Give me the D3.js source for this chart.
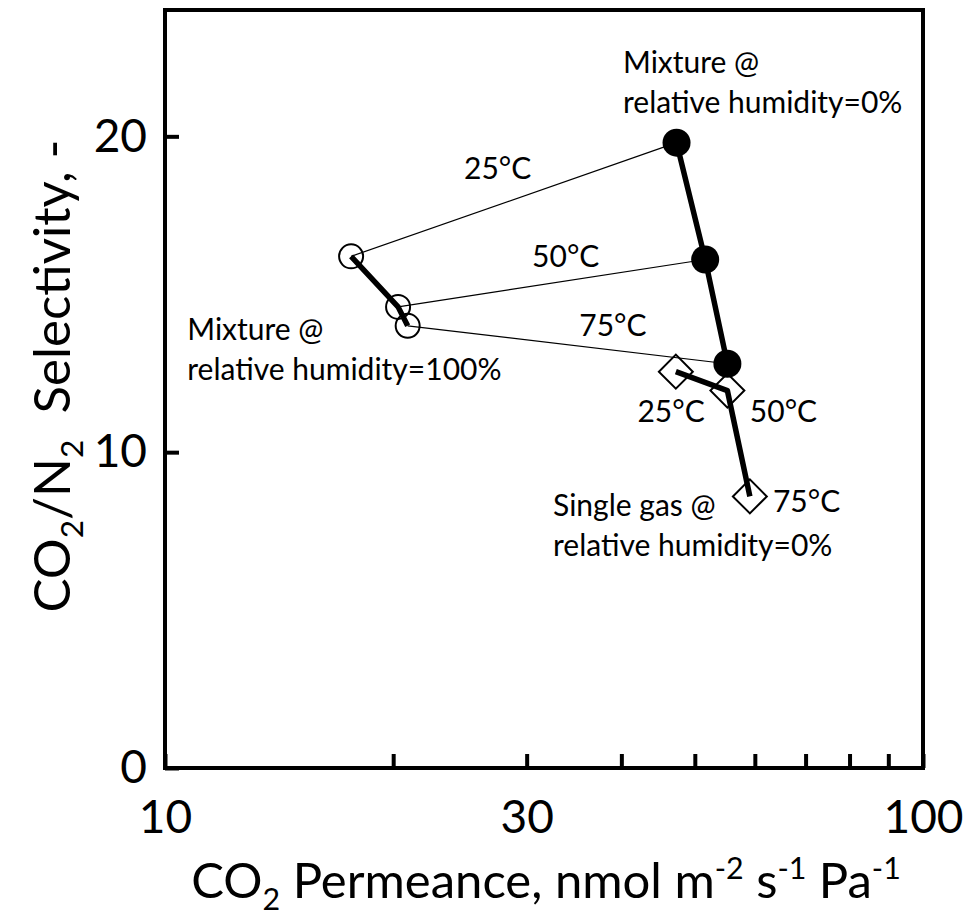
<!DOCTYPE html>
<html>
<head>
<meta charset="utf-8">
<script src="https://cdn.jsdelivr.net/npm/d3@7"></script>
<style>
  body { margin: 0; background: #fff; }
  text { font-family: Lato, "Open Sans", sans-serif; fill: #000; }
</style>
</head>
<body>
<svg id="chart" width="974" height="923"></svg>
<script>
// CO2/N2 selectivity vs CO2 permeance at three temperatures
const temperatures = ["25°C", "50°C", "75°C"];

// Mixture feed, relative humidity 0%
const mixDryPermeance   = [47.3, 51.6, 55.2];
const mixDrySelectivity = [19.8, 16.1, 12.8];

// Mixture feed, relative humidity 100%
const mixWetPermeance   = [17.6, 20.3, 20.9];
const mixWetSelectivity = [16.2, 14.6, 14.0];

// Single gas, relative humidity 0%
const singlePermeance   = [47.2, 55.2, 59.1];
const singleSelectivity = [12.55, 11.95, 8.6];

// Axis ticks
const xTickValues = [10, 20, 30, 40, 50, 60, 70, 80, 90, 100];
const xTickLabels = [10, 30, 100];
const yTickValues = [0, 10, 20];

// Annotations anchored in data units (permeance, selectivity)
const groupNotes = [
  { lines: ["Mixture @", "relative humidity=0%"],   x: 40.2, y: 22.0 },
  { lines: ["Mixture @", "relative humidity=100%"], x: 10.7, y: 13.54 },
  { lines: ["Single gas @", "relative humidity=0%"], x: 32.5, y: 7.97 }
];
const tieLineNotes = [
  { text: temperatures[0], x: 24.8, y: 18.64 },
  { text: temperatures[1], x: 30.5, y: 15.85 },
  { text: temperatures[2], x: 35.2, y: 13.67 }
];
const singleNotes = [
  { text: temperatures[0], x: 42.0, y: 10.95 },
  { text: temperatures[1], x: 59.1, y: 10.95 },
  { text: temperatures[2], x: 63.4, y: 8.1 }
];

const svg = d3.select("#chart");
const plotLeft = 165, plotRight = 923, plotTop = 10, plotBottom = 768;

const x = d3.scaleLog().domain([10, 100]).range([plotLeft, plotRight]);
const y = d3.scaleLinear().domain([0, 24]).range([plotBottom, plotTop]);

const toPoints = (xs, ys) => xs.map((v, i) => ({ p: v, s: ys[i] }));
const dry = toPoints(mixDryPermeance, mixDrySelectivity);
const wet = toPoints(mixWetPermeance, mixWetSelectivity);
const single = toPoints(singlePermeance, singleSelectivity);

const line = d3.line().x(d => x(d.p)).y(d => y(d.s));

// Thin tie lines joining wet and dry mixture results at each temperature
svg.append("g")
  .selectAll("path")
  .data(temperatures.map((t, i) => [wet[i], dry[i]]))
  .join("path")
  .attr("d", line)
  .attr("fill", "none")
  .attr("stroke", "#000")
  .attr("stroke-width", 1.2);

// Thick trend lines through each data set
svg.append("g")
  .selectAll("path")
  .data([dry, wet, single])
  .join("path")
  .attr("d", line)
  .attr("fill", "none")
  .attr("stroke", "#000")
  .attr("stroke-width", 5.5)
  .attr("stroke-linejoin", "round");

// Markers
svg.append("g").selectAll("circle").data(dry).join("circle")
  .attr("cx", d => x(d.p)).attr("cy", d => y(d.s)).attr("r", 14)
  .attr("fill", "#000");

svg.append("g").selectAll("circle").data(wet).join("circle")
  .attr("cx", d => x(d.p)).attr("cy", d => y(d.s)).attr("r", 12)
  .attr("fill", "none").attr("stroke", "#000").attr("stroke-width", 2);

const diamond = d3.symbol().type(d3.symbolSquare).size(24 * 24);
svg.append("g").selectAll("path").data(single).join("path")
  .attr("d", diamond)
  .attr("transform", d => `translate(${x(d.p)},${y(d.s)}) rotate(45)`)
  .attr("fill", "none").attr("stroke", "#000").attr("stroke-width", 2);

// Plot frame
svg.append("rect")
  .attr("x", plotLeft).attr("y", plotTop)
  .attr("width", plotRight - plotLeft).attr("height", plotBottom - plotTop)
  .attr("fill", "none").attr("stroke", "#000").attr("stroke-width", 4);

// X axis: inward ticks, labels only at selected values
const xAxis = d3.axisBottom(x)
  .tickValues(xTickValues)
  .tickSizeInner(-14).tickSizeOuter(0).tickPadding(32)
  .tickFormat(d => xTickLabels.includes(d) ? d : "");
const gx = svg.append("g").attr("transform", `translate(0,${plotBottom})`).call(xAxis);
gx.select(".domain").remove();
gx.selectAll(".tick line").attr("stroke", "#000").attr("stroke-width", 4);
gx.selectAll(".tick text").attr("font-family", "Lato, 'Open Sans', sans-serif")
  .attr("font-size", 46).attr("fill", "#000");

// Y axis
const yAxis = d3.axisLeft(y)
  .tickValues(yTickValues)
  .tickSizeInner(-14).tickSizeOuter(0).tickPadding(18)
  .tickFormat(d3.format("d"));
const gy = svg.append("g").attr("transform", `translate(${plotLeft},0)`).call(yAxis);
gy.select(".domain").remove();
gy.selectAll(".tick line").attr("stroke", "#000").attr("stroke-width", 4);
gy.selectAll(".tick text").attr("font-family", "Lato, 'Open Sans', sans-serif")
  .attr("font-size", 46).attr("fill", "#000");

// Axis titles with sub/superscripts
function richText(sel, parts, size) {
  let carry = 0;
  parts.forEach(([str, kind]) => {
    const shift = kind === "sub" ? 0.25 * size : kind === "sup" ? -0.38 * size : 0;
    sel.append("tspan")
      .attr("dy", shift - carry)
      .attr("font-size", kind ? size * 0.62 : size)
      .text(str);
    carry = shift;
  });
}

const xTitle = svg.append("text")
  .attr("x", 546).attr("y", 898)
  .attr("text-anchor", "middle").attr("font-size", 49);
richText(xTitle, [["CO"], ["2", "sub"], [" Permeance, nmol m"], ["-2", "sup"], [" s"], ["-1", "sup"], [" Pa"], ["-1", "sup"]], 49);

const yTitle = svg.append("text")
  .attr("transform", "translate(70,376) rotate(-90)")
  .attr("text-anchor", "middle").attr("font-size", 51);
richText(yTitle, [["CO"], ["2", "sub"], ["/N"], ["2", "sub"], ["\u00a0 Selectivity, -"]], 51);

// Annotations
const noteSize = 30;
groupNotes.forEach(n => {
  const t = svg.append("text").attr("font-size", noteSize)
    .attr("x", x(n.x)).attr("y", y(n.y));
  n.lines.forEach((l, i) => t.append("tspan")
    .attr("x", x(n.x)).attr("dy", i ? 40 : 0).text(l));
});
[...tieLineNotes, ...singleNotes].forEach(n => {
  svg.append("text").attr("font-size", noteSize)
    .attr("x", x(n.x)).attr("y", y(n.y)).text(n.text);
});
</script>
</body>
</html>
